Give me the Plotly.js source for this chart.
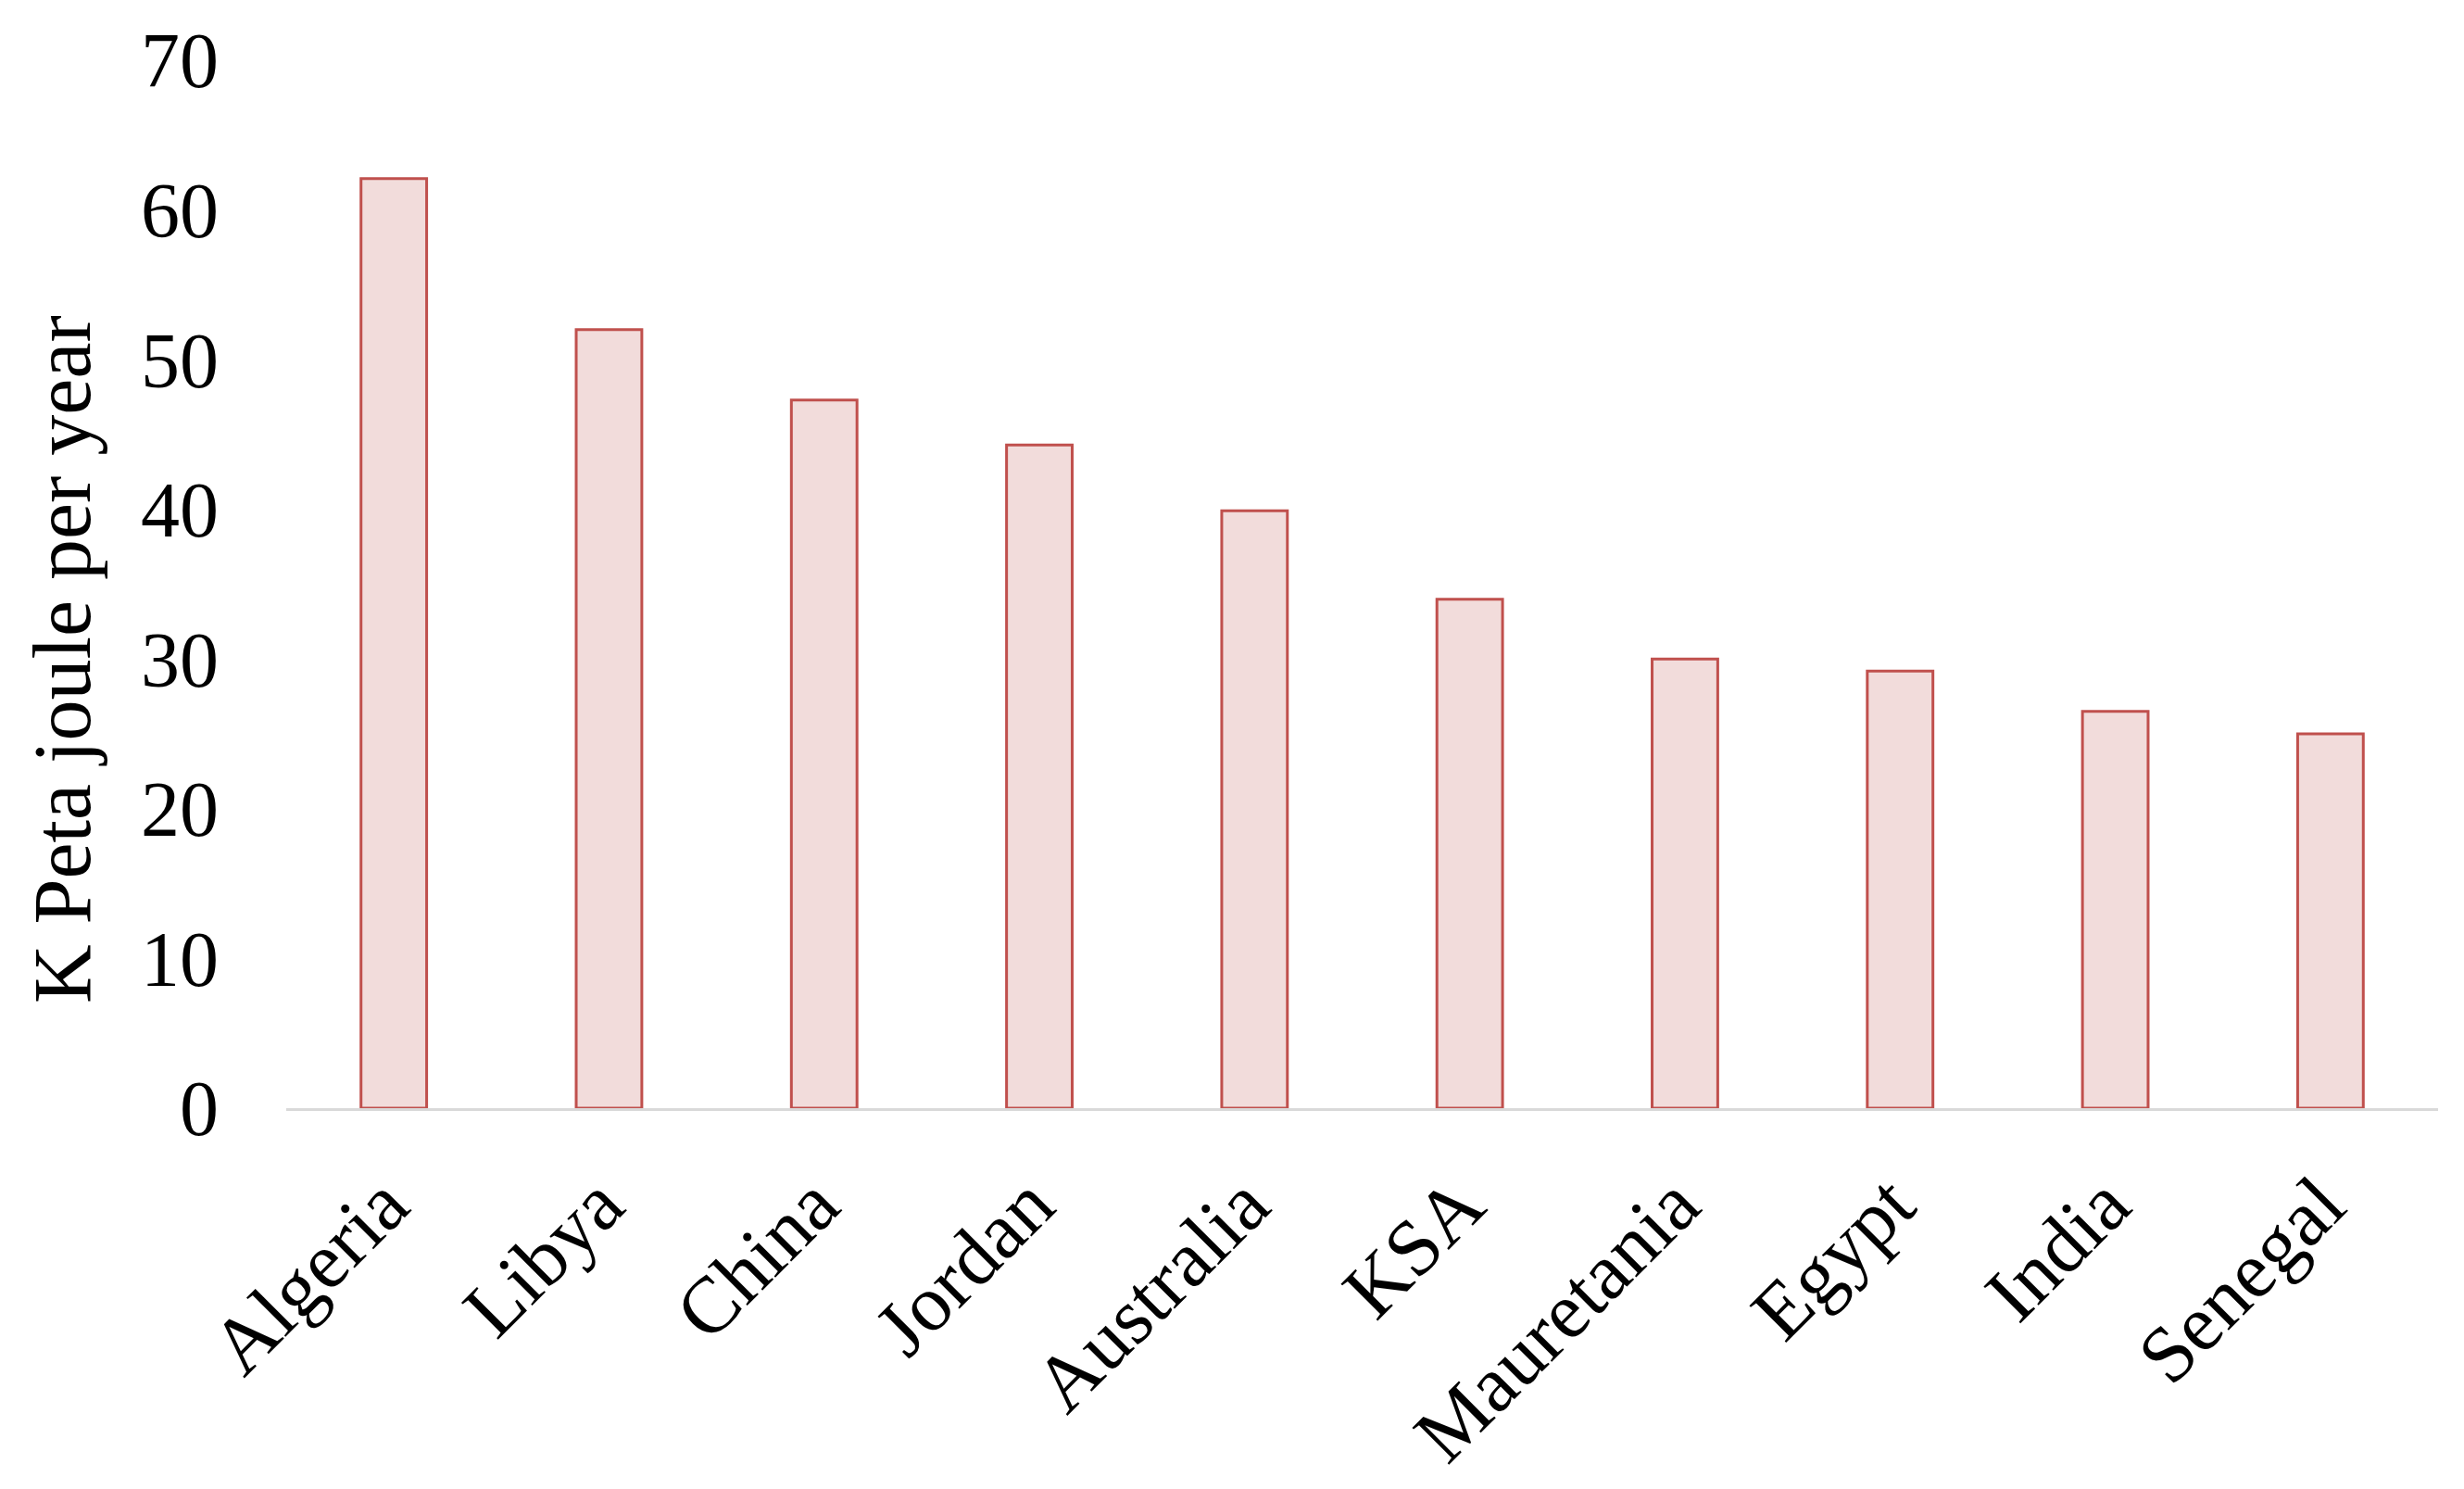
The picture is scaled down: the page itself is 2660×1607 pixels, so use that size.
<!DOCTYPE html>
<html>
<head>
<meta charset="utf-8">
<script src="https://cdn.plot.ly/plotly-3.0.1.min.js"></script>
<style>html,body{margin:0;padding:0;background:#fff;}#chart{width:2660px;height:1607px;}</style>
</head>
<body>
<div id="chart"></div>
<script>
const countries = ["Algeria", "Libya", "China", "Jordan", "Australia", "KSA", "Mauretania", "Egypt", "India", "Senegal"];
const energy = [62.1, 52.0, 47.3, 44.3, 39.9, 34.0, 30.0, 29.2, 26.5, 25.0];
const yTicks = [0, 10, 20, 30, 40, 50, 60, 70];
const yTitle = "K Peta joule per year";

const font = "'Liberation Serif', 'Times New Roman', serif";

const trace = {
  type: "bar",
  x: countries,
  y: energy,
  marker: {color: "#f2dcdb", line: {color: "#c0504d", width: 3}},
  hoverinfo: "x+y"
};

const layout = {
  width: 2660,
  height: 1607,
  paper_bgcolor: "#ffffff",
  plot_bgcolor: "#ffffff",
  margin: {l: 309, r: 28, t: 65, b: 411},
  bargap: 0.695,
  showlegend: false,
  font: {family: font, color: "#000000"},
  xaxis: {
    type: "category",
    tickangle: -45,
    tickfont: {family: font, size: 86, color: "#000000"},
    showgrid: false,
    showline: true,
    linecolor: "#d9d9d9",
    linewidth: 3,
    ticks: "",
    ticklabelstandoff: 16,
    ticklabelshift: -10,
    zeroline: false
  },
  yaxis: {
    range: [0, 70],
    tickvals: yTicks,
    ticktext: yTicks.map(String),
    tickfont: {family: font, size: 84, color: "#000000"},
    showgrid: false,
    showline: false,
    zeroline: false,
    ticks: "",
    ticklabelstandoff: 72
  },
  annotations: [{
    text: yTitle,
    xref: "paper", yref: "paper",
    x: -0.1037, y: 0.428,
    xanchor: "center", yanchor: "middle",
    textangle: -90,
    showarrow: false,
    font: {family: font, size: 88, color: "#000000"}
  }]
};

Plotly.newPlot("chart", [trace], layout, {displayModeBar: false, staticPlot: true});
</script>
</body>
</html>
